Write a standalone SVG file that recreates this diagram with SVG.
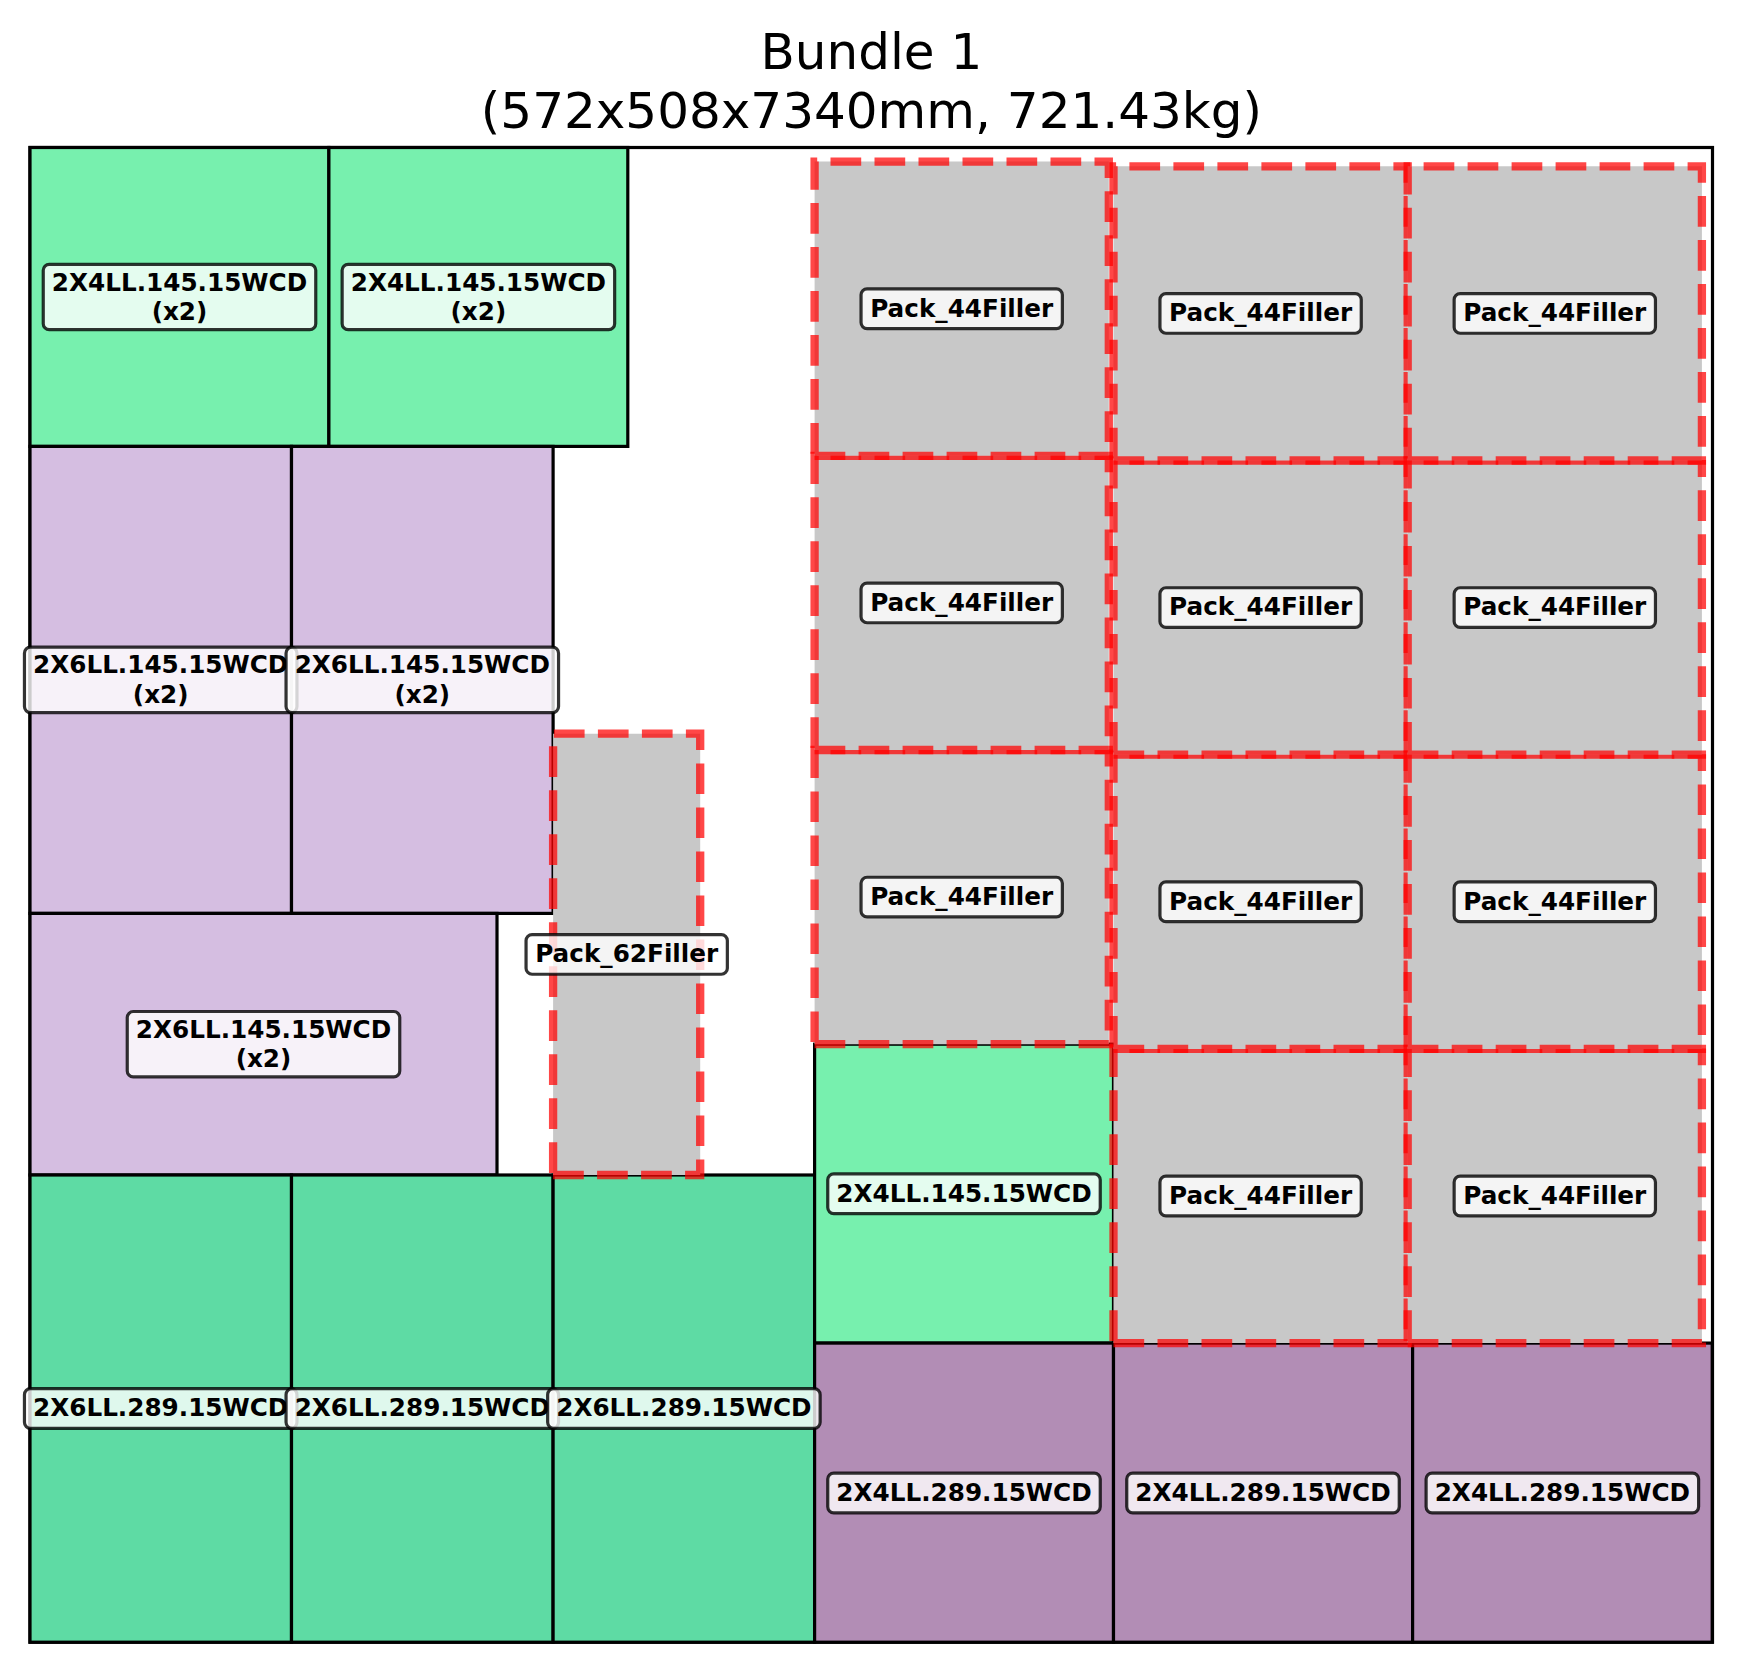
<svg xmlns="http://www.w3.org/2000/svg" width="1741" height="1673" viewBox="0 0 1741 1673">
<style>
.title{font-family:"DejaVu Sans","Liberation Sans",sans-serif;font-size:50px;text-anchor:middle;fill:#000}
.piece{stroke:#000;stroke-width:3.2}
.g4{fill:#77f0ae}
.g6{fill:#5edba4}
.lav{fill:#d5bee1}
.pur{fill:#b28db5}
.filler{fill:#c8c8c8;stroke:#ff0000;stroke-opacity:0.72;stroke-width:8.3;stroke-dasharray:30.7 13.3}
.lbl rect{fill:#fff;fill-opacity:0.8;stroke:#000;stroke-opacity:0.8;stroke-width:3.2}
.lbl text{font-family:"DejaVu Sans","Liberation Sans",sans-serif;font-weight:bold;font-size:24.7px;text-anchor:middle;fill:#000}
</style>
<rect width="1741" height="1673" fill="#fff"/>
<g id="title">
<text class="title" x="871.4" y="69">Bundle 1</text>
<text class="title" x="871.4" y="128">(572x508x7340mm, 721.43kg)</text>
</g>
<g id="container"><rect x="30" y="147.5" width="1682.5" height="1494.7" fill="none" stroke="#000" stroke-width="3.2"/></g>
<g id="pieces">
<g id="A"><rect class="piece g4" x="30" y="147.5" width="298.9" height="298.9"/></g>
<g id="B"><rect class="piece g4" x="328.9" y="147.5" width="298.9" height="298.9"/></g>
<g id="C"><rect class="piece lav" x="30" y="446.4" width="261.5" height="467"/></g>
<g id="D"><rect class="piece lav" x="291.5" y="446.4" width="261.6" height="467"/></g>
<g id="E"><rect class="piece lav" x="30" y="913.4" width="467" height="261.6"/></g>
<g id="F"><rect class="piece g6" x="30" y="1175" width="261.5" height="467.2"/></g>
<g id="G"><rect class="piece g6" x="291.5" y="1175" width="261.6" height="467.2"/></g>
<g id="H"><rect class="piece g6" x="553.1" y="1175" width="261.5" height="467.2"/></g>
<g id="L"><rect class="piece g4" x="814.6" y="1044.2" width="298.9" height="298.9"/></g>
<g id="I"><rect class="piece pur" x="814.6" y="1343.1" width="298.9" height="299.1"/></g>
<g id="J"><rect class="piece pur" x="1113.5" y="1343.1" width="299.1" height="299.1"/></g>
<g id="K"><rect class="piece pur" x="1412.6" y="1343.1" width="299.6" height="299.1"/></g>
</g>
<g id="fillers">
<g id="P62"><path class="filler" d="M553.1,1175 H700.2 V733.7 H553.1 Z"/></g>
<g id="F1a"><path class="filler" d="M814.6,1044.2 H1108.8 V750 H814.6 Z"/></g>
<g id="F1b"><path class="filler" d="M814.6,750 H1108.8 V455.8 H814.6 Z"/></g>
<g id="F1c"><path class="filler" d="M814.6,455.8 H1108.8 V161.6 H814.6 Z"/></g>
<g id="F2a"><path class="filler" d="M1113.5,1343.1 H1407.7 V1048.9 H1113.5 Z"/></g>
<g id="F2b"><path class="filler" d="M1113.5,1048.9 H1407.7 V754.7 H1113.5 Z"/></g>
<g id="F2c"><path class="filler" d="M1113.5,754.7 H1407.7 V460.5 H1113.5 Z"/></g>
<g id="F2d"><path class="filler" d="M1113.5,460.5 H1407.7 V166.3 H1113.5 Z"/></g>
<g id="F3a"><path class="filler" d="M1407.7,1343.1 H1701.9 V1048.9 H1407.7 Z"/></g>
<g id="F3b"><path class="filler" d="M1407.7,1048.9 H1701.9 V754.7 H1407.7 Z"/></g>
<g id="F3c"><path class="filler" d="M1407.7,754.7 H1701.9 V460.5 H1407.7 Z"/></g>
<g id="F3d"><path class="filler" d="M1407.7,460.5 H1701.9 V166.3 H1407.7 Z"/></g>
</g>
<g id="labels">
<g id="lbl-A" class="lbl"><rect x="43.25" y="264.3" width="272.5" height="65.4" rx="6"/><text x="179.5" y="290.5">2X4LL.145.15WCD</text><text x="179.5" y="319.9">(x2)</text></g>
<g id="lbl-B" class="lbl"><rect x="342.15" y="264.3" width="272.5" height="65.4" rx="6"/><text x="478.4" y="290.5">2X4LL.145.15WCD</text><text x="478.4" y="319.9">(x2)</text></g>
<g id="lbl-C" class="lbl"><rect x="24.45" y="647.2" width="272.5" height="65.4" rx="6"/><text x="160.7" y="673.4">2X6LL.145.15WCD</text><text x="160.7" y="702.8">(x2)</text></g>
<g id="lbl-D" class="lbl"><rect x="286.05" y="647.2" width="272.5" height="65.4" rx="6"/><text x="422.3" y="673.4">2X6LL.145.15WCD</text><text x="422.3" y="702.8">(x2)</text></g>
<g id="lbl-E" class="lbl"><rect x="127.25" y="1011.5" width="272.5" height="65.4" rx="6"/><text x="263.5" y="1037.7">2X6LL.145.15WCD</text><text x="263.5" y="1067.1">(x2)</text></g>
<g id="lbl-F" class="lbl"><rect x="24.45" y="1388.65" width="272.5" height="39.7" rx="6"/><text x="160.7" y="1416.3">2X6LL.289.15WCD</text></g>
<g id="lbl-G" class="lbl"><rect x="286.05" y="1388.65" width="272.5" height="39.7" rx="6"/><text x="422.3" y="1416.3">2X6LL.289.15WCD</text></g>
<g id="lbl-H" class="lbl"><rect x="547.65" y="1388.65" width="272.5" height="39.7" rx="6"/><text x="683.9" y="1416.3">2X6LL.289.15WCD</text></g>
<g id="lbl-P62" class="lbl"><rect x="526.05" y="934.55" width="201.3" height="39.7" rx="6"/><text x="626.7" y="962.2">Pack_62Filler</text></g>
<g id="lbl-L" class="lbl"><rect x="827.75" y="1173.85" width="272.5" height="39.7" rx="6"/><text x="964" y="1201.5">2X4LL.145.15WCD</text></g>
<g id="lbl-I" class="lbl"><rect x="827.75" y="1473.1" width="272.5" height="39.7" rx="6"/><text x="964" y="1500.7">2X4LL.289.15WCD</text></g>
<g id="lbl-J" class="lbl"><rect x="1126.75" y="1473.1" width="272.5" height="39.7" rx="6"/><text x="1263" y="1500.7">2X4LL.289.15WCD</text></g>
<g id="lbl-K" class="lbl"><rect x="1426.1" y="1473.1" width="272.5" height="39.7" rx="6"/><text x="1562.35" y="1500.7">2X4LL.289.15WCD</text></g>
<g id="lbl-F1a" class="lbl"><rect x="861.05" y="877.25" width="201.3" height="39.7" rx="6"/><text x="961.7" y="904.9">Pack_44Filler</text></g>
<g id="lbl-F1b" class="lbl"><rect x="861.05" y="583.05" width="201.3" height="39.7" rx="6"/><text x="961.7" y="610.7">Pack_44Filler</text></g>
<g id="lbl-F1c" class="lbl"><rect x="861.05" y="288.85" width="201.3" height="39.7" rx="6"/><text x="961.7" y="316.5">Pack_44Filler</text></g>
<g id="lbl-F2a" class="lbl"><rect x="1159.95" y="1176.15" width="201.3" height="39.7" rx="6"/><text x="1260.6" y="1203.8">Pack_44Filler</text></g>
<g id="lbl-F2b" class="lbl"><rect x="1159.95" y="881.95" width="201.3" height="39.7" rx="6"/><text x="1260.6" y="909.6">Pack_44Filler</text></g>
<g id="lbl-F2c" class="lbl"><rect x="1159.95" y="587.75" width="201.3" height="39.7" rx="6"/><text x="1260.6" y="615.4">Pack_44Filler</text></g>
<g id="lbl-F2d" class="lbl"><rect x="1159.95" y="293.55" width="201.3" height="39.7" rx="6"/><text x="1260.6" y="321.2">Pack_44Filler</text></g>
<g id="lbl-F3a" class="lbl"><rect x="1454.15" y="1176.15" width="201.3" height="39.7" rx="6"/><text x="1554.8" y="1203.8">Pack_44Filler</text></g>
<g id="lbl-F3b" class="lbl"><rect x="1454.15" y="881.95" width="201.3" height="39.7" rx="6"/><text x="1554.8" y="909.6">Pack_44Filler</text></g>
<g id="lbl-F3c" class="lbl"><rect x="1454.15" y="587.75" width="201.3" height="39.7" rx="6"/><text x="1554.8" y="615.4">Pack_44Filler</text></g>
<g id="lbl-F3d" class="lbl"><rect x="1454.15" y="293.55" width="201.3" height="39.7" rx="6"/><text x="1554.8" y="321.2">Pack_44Filler</text></g>
</g>
</svg>
